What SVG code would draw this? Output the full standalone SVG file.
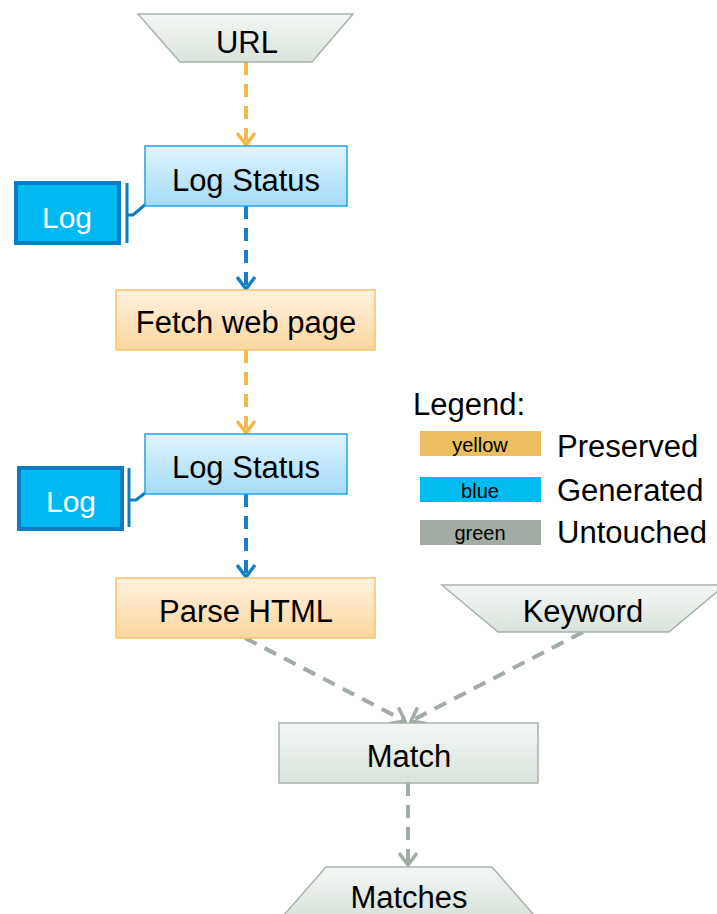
<svg xmlns="http://www.w3.org/2000/svg" width="717" height="914" viewBox="0 0 717 914">
<defs>
<linearGradient id="gBlue" x1="0" y1="0" x2="0" y2="1"><stop offset="0" stop-color="#e2f4fe"/><stop offset="1" stop-color="#a3dbf8"/></linearGradient>
<linearGradient id="gOrange" x1="0" y1="0" x2="0" y2="1"><stop offset="0" stop-color="#fff1df"/><stop offset="1" stop-color="#fcd79e"/></linearGradient>
<linearGradient id="gGray" x1="0" y1="0" x2="0" y2="1"><stop offset="0" stop-color="#f4f7f4"/><stop offset="1" stop-color="#d9e3dc"/></linearGradient>
<marker id="aB" markerUnits="userSpaceOnUse" viewBox="-14 -10 16 20" refX="0" refY="0" markerWidth="16" markerHeight="20" orient="auto"><path d="M-12,-9 L0,0 L-12,9" fill="none" stroke="#1a7fc6" stroke-width="3.5"/></marker>
<marker id="aG" markerUnits="userSpaceOnUse" viewBox="-14 -10 16 20" refX="0" refY="0" markerWidth="16" markerHeight="20" orient="auto"><path d="M-12,-9 L0,0 L-12,9" fill="none" stroke="#a1aca4" stroke-width="3.5"/></marker>
<marker id="aY" markerUnits="userSpaceOnUse" viewBox="-14 -10 16 20" refX="0" refY="0" markerWidth="16" markerHeight="20" orient="auto"><path d="M-12,-9 L0,0 L-12,9" fill="none" stroke="#f0b94c" stroke-width="3.5"/></marker>
</defs>
<style>
text{font-family:"Liberation Sans",Arial,sans-serif;fill:#000}
.lbl{font-size:31px;text-anchor:middle}
.blueBox{fill:url(#gBlue);stroke:#1fa6e2;stroke-width:1.5}
.orBox{fill:url(#gOrange);stroke:#f6c46e;stroke-width:1.5}
.grBox{fill:url(#gGray);stroke:#a7b3aa;stroke-width:1.5}
.log{fill:#00b9f0;stroke:#0a7dc5;stroke-width:4}
.logt{font-size:30px;fill:#fff;text-anchor:middle}
.brk{fill:none;stroke:#0a7dc5;stroke-width:3}
.cY{fill:none;stroke:#f0b94c;stroke-width:4;stroke-dasharray:13 9}
.cB{fill:none;stroke:#1a7fc6;stroke-width:4;stroke-dasharray:13 9}
.cG{fill:none;stroke:#a1aca4;stroke-width:4;stroke-dasharray:13 9}
.sw{font-size:20px;text-anchor:middle}
.leg{font-size:31px}
</style>
<g id="connectors">
<line class="cY" x1="246" y1="62" x2="246" y2="145" marker-end="url(#aY)"/>
<line class="cB" x1="246" y1="206" x2="246" y2="289" marker-end="url(#aB)"/>
<line class="cY" x1="246" y1="350" x2="246" y2="433" marker-end="url(#aY)"/>
<line class="cB" x1="246" y1="494" x2="246" y2="577" marker-end="url(#aB)"/>
<line class="cG" x1="245" y1="638" x2="405" y2="721" marker-end="url(#aG)"/>
<line class="cG" x1="583" y1="632" x2="411" y2="721" marker-end="url(#aG)"/>
<line class="cG" x1="408" y1="783" x2="408" y2="865" marker-end="url(#aG)"/>
<path class="brk" d="M127,183 V243 M127,215 H133 L153,198"/>
<path class="brk" d="M129,468 V527 M129,500 H136 L157,484"/>
</g>
<g id="url"><polygon class="grBox" points="138,14 353,14 312,62 180,62"/><text class="lbl" x="247" y="53">URL</text></g>
<g id="logstatus1"><rect class="blueBox" x="145" y="146" width="202" height="60"/><text class="lbl" x="246" y="191">Log Status</text></g>
<g id="log1"><rect class="log" x="16" y="183" width="103" height="60"/><text class="logt" x="67" y="228">Log</text></g>
<g id="fetch"><rect class="orBox" x="116" y="290" width="259" height="60"/><text class="lbl" x="246" y="333">Fetch web page</text></g>
<g id="logstatus2"><rect class="blueBox" x="145" y="434" width="202" height="60"/><text class="lbl" x="246" y="478">Log Status</text></g>
<g id="log2"><rect class="log" x="19" y="468" width="103" height="61"/><text class="logt" x="71" y="512">Log</text></g>
<g id="parse"><rect class="orBox" x="116" y="578" width="259" height="60"/><text class="lbl" x="246" y="622">Parse HTML</text></g>
<g id="keyword"><polygon class="grBox" points="442,585 725,585 669,632 498,632"/><text class="lbl" x="583" y="622">Keyword</text></g>
<g id="match"><rect class="grBox" x="279" y="723" width="259" height="60"/><text class="lbl" x="409" y="767">Match</text></g>
<g id="matches"><polygon class="grBox" points="326,867 492,867 534,915 284,915"/><text class="lbl" x="409" y="908">Matches</text></g>
<g id="legend">
<text class="leg" x="413" y="415">Legend:</text>
<rect x="420" y="431" width="121" height="25" fill="#ecbe5f"/><text class="sw" x="480" y="452">yellow</text>
<rect x="420" y="477" width="121" height="25" fill="#00bbf0"/><text class="sw" x="480" y="498">blue</text>
<rect x="420" y="520" width="121" height="25" fill="#a2aca4"/><text class="sw" x="480" y="540">green</text>
<text class="leg" x="557" y="457">Preserved</text>
<text class="leg" x="557" y="501">Generated</text>
<text class="leg" x="557" y="543">Untouched</text>
</g>
</svg>
